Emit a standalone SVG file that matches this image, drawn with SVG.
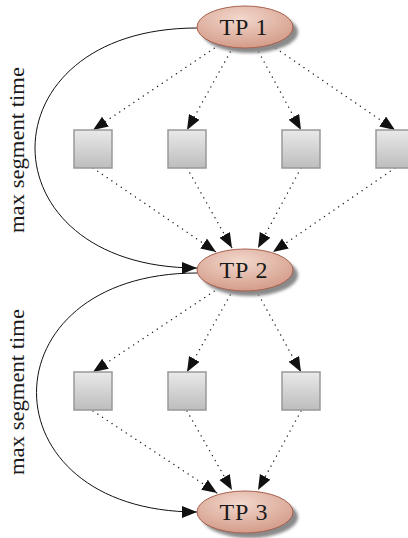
<svg xmlns="http://www.w3.org/2000/svg" width="408" height="538" viewBox="0 0 408 538">
<style>
.dot{fill:none;stroke:#222;stroke-width:1.4;stroke-dasharray:0.1 5.6;stroke-linecap:round}
.cur{fill:none;stroke:#111;stroke-width:1}
.box{fill:url(#gb);stroke:#999;stroke-width:1.5}
.ell{fill:url(#ge);stroke:#a8604e;stroke-width:1}
.sh{fill:#8a8a8a;filter:url(#bl)}
.lbl{font-family:"Liberation Serif","DejaVu Serif",serif;font-size:24px;fill:#1a1a1a;text-anchor:middle;letter-spacing:1px}
.side{font-family:"Liberation Serif","DejaVu Serif",serif;font-size:21px;fill:#1a1a1a;text-anchor:middle}
</style>
<defs>
<linearGradient id="gb" x1="0" y1="0" x2="0" y2="1">
<stop offset="0" stop-color="#e9e9e9"/><stop offset="1" stop-color="#bdbdbd"/>
</linearGradient>
<radialGradient id="ge" cx="0.45" cy="0.3" r="0.7">
<stop offset="0" stop-color="#f2d8cc"/><stop offset="1" stop-color="#d49c8a"/>
</radialGradient>
<filter id="bl" x="-20%" y="-30%" width="140%" height="160%"><feGaussianBlur stdDeviation="1.5"/></filter>
<marker id="ah" markerUnits="userSpaceOnUse" markerWidth="16" markerHeight="13" refX="15" refY="6" orient="auto" viewBox="0 0 16 13">
<path d="M0,0 L15,6 L0,12 z" fill="#111"/>
</marker>
</defs>
<g id="connectors">
<path class="cur" d="M197,28 C-19,28 -19,268 197,268" marker-end="url(#ah)"/>
<path class="cur" d="M197,273 C-17,273 -17,512 197,512" marker-end="url(#ah)"/>
<path class="dot" d="M219,45 L93,130" marker-end="url(#ah)"/>
<path class="dot" d="M233,47 L187,130" marker-end="url(#ah)"/>
<path class="dot" d="M256,47 L301,130" marker-end="url(#ah)"/>
<path class="dot" d="M271,45 L395,130" marker-end="url(#ah)"/>
<path class="dot" d="M93,168 L216,252" marker-end="url(#ah)"/>
<path class="dot" d="M187,168 L232,248" marker-end="url(#ah)"/>
<path class="dot" d="M301,168 L258,248" marker-end="url(#ah)"/>
<path class="dot" d="M395,168 L273,252" marker-end="url(#ah)"/>
<path class="dot" d="M219,288 L93,372" marker-end="url(#ah)"/>
<path class="dot" d="M233,290 L187,372" marker-end="url(#ah)"/>
<path class="dot" d="M256,290 L301,372" marker-end="url(#ah)"/>
<path class="dot" d="M93,411 L217,493" marker-end="url(#ah)"/>
<path class="dot" d="M187,411 L232,490" marker-end="url(#ah)"/>
<path class="dot" d="M301,411 L258,490" marker-end="url(#ah)"/>
</g>
<g id="labels">
<text class="side" transform="translate(23.5,150) rotate(-90)" textLength="166" lengthAdjust="spacingAndGlyphs">max segment time</text>
<text class="side" transform="translate(23.5,392) rotate(-90)" textLength="166" lengthAdjust="spacingAndGlyphs">max segment time</text>
</g>
<g id="tp1">
<ellipse class="sh" cx="250" cy="32" rx="48" ry="21"/>
<ellipse class="ell" cx="245" cy="27" rx="48" ry="21"/>
<text class="lbl" x="244" y="35">TP 1</text>
</g>
<g id="tp2">
<ellipse class="sh" cx="250" cy="275" rx="48" ry="21"/>
<ellipse class="ell" cx="245" cy="270" rx="48" ry="21"/>
<text class="lbl" x="244" y="278">TP 2</text>
</g>
<g id="tp3">
<ellipse class="sh" cx="250" cy="517" rx="48" ry="21"/>
<ellipse class="ell" cx="245" cy="512" rx="48" ry="21"/>
<text class="lbl" x="244" y="520">TP 3</text>
</g>
<g id="b1"><rect class="box" x="74" y="130" width="38" height="38"/></g>
<g id="b2"><rect class="box" x="168" y="130" width="38" height="38"/></g>
<g id="b3"><rect class="box" x="282" y="130" width="38" height="38"/></g>
<g id="b4"><rect class="box" x="376" y="130" width="38" height="38"/></g>
<g id="b5"><rect class="box" x="74" y="372" width="38" height="38"/></g>
<g id="b6"><rect class="box" x="168" y="372" width="38" height="38"/></g>
<g id="b7"><rect class="box" x="282" y="372" width="38" height="38"/></g>
</svg>
